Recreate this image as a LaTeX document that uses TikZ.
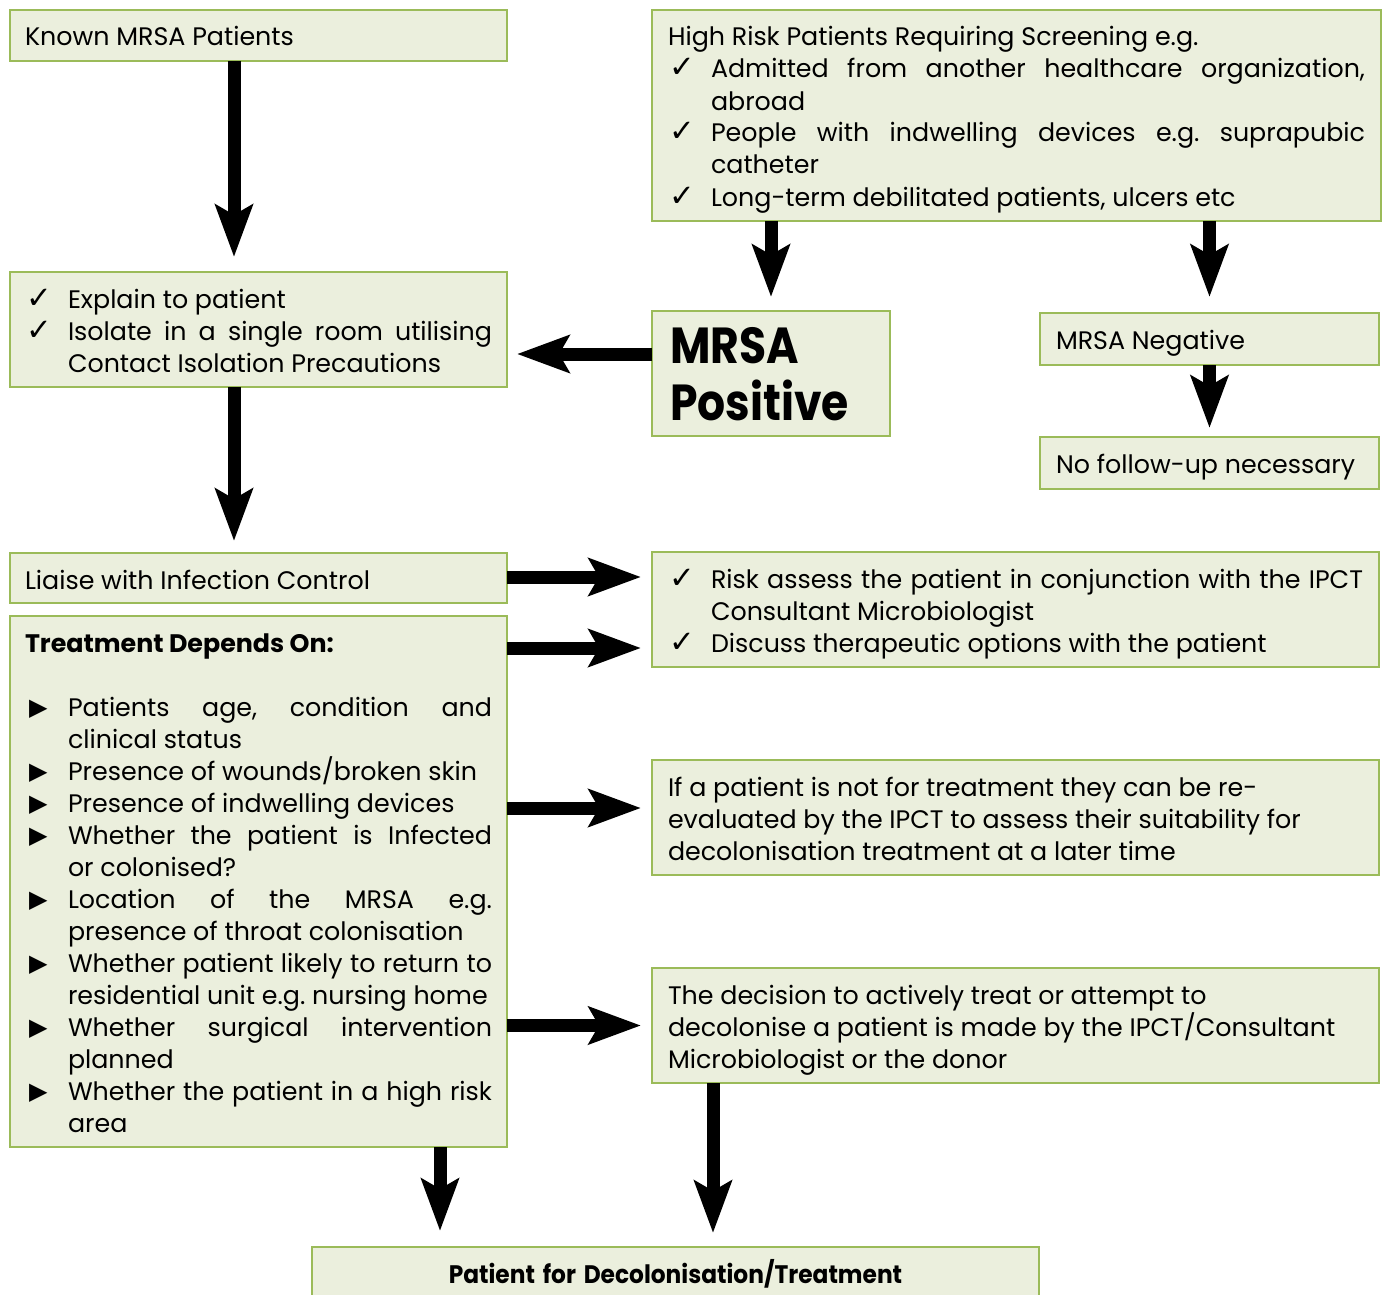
\documentclass[tikz,border=0pt]{standalone}
\usepackage{fontspec}
\setmainfont{Poppins}
\newfontfamily\symf{DejaVu Sans}
\usetikzlibrary{arrows.meta}
\definecolor{boxfill}{HTML}{EBEFDD}
\definecolor{boxline}{HTML}{9BBB59}
\setlength\parindent{0pt}
\frenchspacing
\hyphenpenalty=10000
\newcommand\ck[1]{\par\hangindent=32.25pt\hangafter=1\noindent\makebox[32.25pt][l]{\hspace{1pt}{\symf\bfseries\fontsize{23pt}{23pt}\selectfont ✓}}#1\par}
\newcommand\tri[1]{\par\hangindent=32.25pt\hangafter=1\noindent\makebox[32.25pt][l]{\hspace{3pt}\raisebox{0.3pt}{\symf\fontsize{18pt}{18pt}\selectfont ▶}}#1\par}
% fixed-height, top-aligned text block: [kern]{height}{width}{text}
\newcommand\bx[4][3pt]{\parbox[c][#2][t]{#3}{\kern#1\hbox{}#4}}
\tikzset{
  box/.style={draw=boxline, fill=boxfill, line width=1.5pt, anchor=north west,
    inner xsep=11.25pt, inner ysep=0pt, outer sep=0pt, font=\fontsize{19pt}{24pt}\selectfont},
  rbox/.style={box, inner xsep=12pt},
  arr/.style={line width=9.75pt, -{Stealth[length=39pt,width=27.75pt,inset=7.5pt]}},
}
\begin{document}
\begin{tikzpicture}[x=1pt,y=-1pt]
\useasboundingbox (0,0) rectangle (1038.75,971.25);
\fill[white] (0,0) rectangle (1038.75,971.25);

\node[box] (known) at (7.5,7.5) {\bx{38.25pt}{350.25pt}{Known MRSA Patients}};

\node[rbox] (high) at (489,7.5) {\bx{158.25pt}{522.75pt}{High Risk Patients Requiring Screening e.g.
  \ck{Admitted from another healthcare organization,\linebreak abroad}
  \ck{People with indwelling devices e.g. suprapubic\linebreak catheter}
  \ck{Long-term debilitated patients, ulcers etc}}};

\node[box] (explain) at (7.5,204) {\bx{86.25pt}{350.25pt}{\ck{Explain to patient}
  \ck{Isolate in a single room utilising\linebreak Contact Isolation Precautions}}};

\node[rbox, inner xsep=13.5pt, font=\fontsize{38pt}{43pt}\selectfont\bfseries]
  (positive) at (489,233.25) {\bx[-4pt]{93.75pt}{151.5pt}{\raggedright
  \scalebox{0.87}[1]{MRSA}\\\scalebox{0.87}[1]{Positive}}};

\node[rbox] (negative) at (780,234.75) {\bx{39pt}{230.25pt}{MRSA Negative}};

\node[rbox] (nofollow) at (780,327.75) {\bx{39pt}{230.25pt}{No follow-up necessary}};

\node[box] (liaise) at (7.5,414.75) {\bx{37.5pt}{350.25pt}{Liaise with Infection Control}};

\node[rbox] (risk) at (489,414) {\bx{86.25pt}{521.25pt}{%
  \ck{Risk assess the patient in conjunction with the IPCT\linebreak Consultant Microbiologist}
  \ck{Discuss therapeutic options with the patient}}};

\node[box] (treat) at (7.5,462) {\bx{398.25pt}{350.25pt}{\textbf{Treatment Depends On:}\par\vspace{24pt}
  \tri{Patients age, condition and\linebreak clinical status}
  \tri{Presence of wounds/broken skin}
  \tri{Presence of indwelling devices}
  \tri{Whether the patient is Infected\linebreak or colonised?}
  \tri{Location of the MRSA e.g.\linebreak presence of throat colonisation}
  \tri{Whether patient likely to return to\linebreak residential unit e.g. nursing home}
  \tri{Whether surgical intervention\linebreak planned}
  \tri{Whether the patient in a high risk\linebreak area}}};

\node[rbox] (ifp) at (489,570) {\bx{86.25pt}{521.25pt}{\raggedright
  If a patient is not for treatment they can be re-\\evaluated by the IPCT to assess their suitability for\\decolonisation treatment at a later time}};

\node[rbox] (decision) at (489,726) {\bx{86.25pt}{521.25pt}{\raggedright
  The decision to actively treat or attempt to\\decolonise a patient is made by the IPCT/Consultant\\Microbiologist or the donor}};

\node[rbox, minimum width=545.25pt, minimum height=40.5pt, text width=521.25pt, align=center,
  inner sep=0pt, font=\fontsize{19pt}{24pt}\selectfont\bfseries]
  (patient) at (234,935.25) {\scalebox{0.92}[1]{Patient for Decolonisation/Treatment}};

% arrows
\coordinate (pe) at (387.75,265.5);
\coordinate (ye) at (0,606);
\draw[arr] ([xshift=-18.375pt]known.south) -- ([xshift=-18.375pt,yshift=11.25pt]explain.north);
\draw[arr] (high.south -| positive.north) -- ([yshift=10.5pt]positive.north);
\draw[arr] (high.south -| negative.north) -- ([yshift=12pt]negative.north);
\draw[arr] (positive.west |- pe) -- (pe);
\draw[arr] (negative.south) -- ([yshift=6.75pt]nofollow.north);
\draw[arr] ([xshift=-18.375pt]explain.south) -- ([xshift=-18.375pt,yshift=9pt]liaise.north);
\draw[arr] ([yshift=0.75pt]liaise.east) -- ([xshift=-8.25pt,yshift=0.75pt]risk.west |- liaise.east);
\draw[arr] (treat.east |- 0,486) -- ([xshift=-8.25pt]risk.west |- 0,486);
\draw[arr] (treat.east |- ye) -- ([xshift=-8.25pt]ifp.west |- ye);
\draw[arr] (treat.east |- decision.west) -- ([xshift=-8.25pt]decision.west);
\draw[arr] (treat.south -| 330,0) -- ([yshift=12pt]patient.north -| 330,0);
\draw[arr] (decision.south -| 534.75,0) -- ([yshift=10.5pt]patient.north -| 534.75,0);
\end{tikzpicture}
\end{document}
